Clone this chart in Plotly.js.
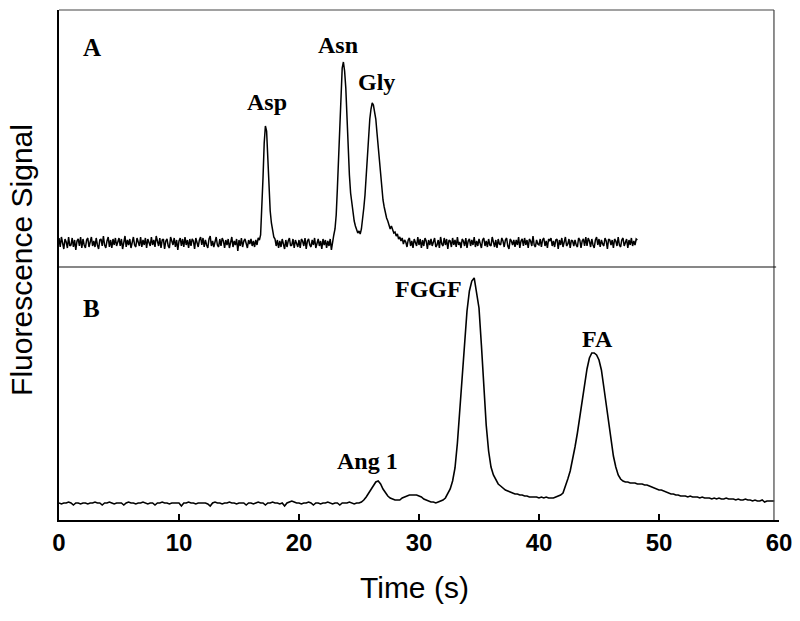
<!DOCTYPE html>
<html>
<head>
<meta charset="utf-8">
<script src="https://cdn.plot.ly/plotly-3.0.1.min.js"></script>
<style>
  body { margin: 0; background: #fff; }
  #chart { width: 800px; height: 621px; }
</style>
</head>
<body>
<div id="chart"></div>
<script>
// time steps (s) of the two traces
var stepA = 0.1;   // panel A: 0 .. 48.2 s
var stepB = 0.2;   // panel B: 0 .. 59.6 s

// panel A signal (arbitrary units above baseline)
var signalA = [
  5,-4,6,-2,-6,4,1,-5,6,-3,
  -2,5,-4,3,-7,2,4,-3,6,-5,
  4,-2,-5,3,5,-4,1,6,-3,2,
  -4,5,-2,-6,3,4,-3,7,-2,-5,
  2,6,-4,3,-5,4,-2,5,-3,1,
  5,-3,4,-6,2,7,-4,3,-2,4,
  -5,3,6,-2,-4,5,2,-3,6,-4,
  3,-2,5,-5,4,-1,-3,6,-2,3,
  -4,7,2,-3,5,-5,3,4,-6,2,
  4,-3,-5,6,2,-2,5,-4,3,-7,
  2,5,-3,4,-4,6,-2,3,-5,4,
  -3,4,2,-6,5,-1,-4,3,6,-2,
  5,-4,3,-2,-5,4,7,-3,2,-4,
  3,6,-2,-4,4,-3,5,2,-5,3,
  -2,4,-5,3,6,-4,2,-2,4,-8,
  3,-3,5,-4,2,4,-2,-5,3,-1,
  4,-3,2,-4,3,-2,5,3,8,32,
  65,100,117,112,82,52,32,20,11,6,
  4,-3,3,-5,2,-4,4,-2,-6,3,
  -4,2,5,-3,-2,4,-5,3,-1,-4,
  3,-5,4,2,-3,5,-6,2,4,-2,
  -4,3,-2,5,-5,1,4,-3,2,-6,
  4,-2,3,-5,2,-3,4,-7,2,8,
  14,28,55,85,120,152,175,181,172,155,
  125,90,68,50,40,30,22,17,13,10,
  12,9,14,22,35,48,68,88,108,124,
  134,140,138,132,124,110,95,80,66,54,
  43,36,30,25,22,19,14,17,12,10,
  11,7,9,4,6,2,5,-1,3,1,
  -4,3,5,-3,2,-5,4,-1,-3,6,
  -2,4,-5,3,-3,5,2,-6,3,-2,
  4,-3,2,5,-4,-2,3,-5,6,-1,
  -3,5,-2,4,-6,3,2,-4,5,-2,
  3,-4,6,-2,1,-5,4,2,-3,5,
  -5,2,4,-3,3,-2,6,-4,2,-3,
  4,-1,-5,3,5,-3,2,-4,4,-2,
  -3,6,2,-4,3,-5,4,-1,-2,5,
  2,-4,3,5,-3,-6,4,2,-2,3,
  -4,3,-2,6,-5,2,4,-3,5,-2,
  3,-5,4,2,-3,7,-2,-4,3,-1,
  -2,4,-4,3,5,-3,2,-5,4,2,
  5,-3,2,-4,3,4,-6,3,-2,5,
  -4,2,6,-3,-1,4,-5,3,2,-3,
  3,-2,-4,5,3,-5,2,4,-3,6,
  -3,5,2,-4,4,-2,-5,3,6,-2,
  4,-4,3,-1,-3,5,2,-6,4,3,
  -2,3,-5,4,2,-3,6,-2,-4,3,
  5,-3,2,4,-5,3,-2,5,-3,2,
  -2,4,3
];

// panel B signal (arbitrary units above baseline)
var signalB = [
  0,-1,0,0,1,0,-2,0,0,-1,
  0,0,-1,0,0,1,0,0,-2,0,
  0,1,0,-1,0,0,0,-2,0,1,
  0,0,-1,0,0,1,0,-1,0,0,
  -2,0,0,1,0,0,-1,0,0,0,
  0,-3,0,0,1,0,0,-1,0,0,
  0,0,-1,-3,0,1,0,0,-1,0,
  0,1,0,0,-1,0,0,0,-2,0,
  0,-1,0,1,0,0,-2,0,0,1,
  0,0,-1,0,-3,0,1,2,1,0,
  0,-1,0,0,1,0,-2,0,0,-1,
  0,0,1,0,-1,0,0,-2,0,0,
  0,1,0,-1,0,0,1,3,6,10,
  14,18,21,22,19,14,10,7,5,4,
  3,3,3,5,6,7,8,8,8,8,
  7,6,4,3,2,1,1,0,1,2,
  3,5,9,14,22,35,60,93,125,160,
  192,212,222,225,212,195,158,115,78,52,
  36,28,23,19,17,15,13,12,11,10,
  9,9,8,8,7,7,6,6,6,6,
  5,6,5,6,5,5,5,6,7,8,
  10,16,24,32,43,56,70,86,103,120,
  134,145,150,150,148,143,133,116,98,82,
  65,47,36,28,24,22,21,21,20,20,
  20,19,19,19,18,18,17,16,15,14,
  13,13,12,11,10,9,9,8,8,7,
  7,7,6,7,6,6,6,5,6,5,
  5,5,4,5,4,5,4,4,5,4,
  4,4,3,4,3,3,4,3,3,2,
  3,2,2,3,1,2,2,2,2
];

var tickVals = [0, 10, 20, 30, 40, 50, 60];

// peak labels: name, time (s), signal level of the label
var labelsA = ["A", "Asp", "Asn", "Gly"];
var labelTimesA = [2.77, 17.31, 23.23, 26.43];
var labelLevelsA = [196, 141, 198, 161];
var labelsB = ["B", "Ang 1", "FGGF", "FA"];
var labelTimesB = [2.68, 25.72, 30.77, 44.89];
var labelLevelsB = [194, 42, 214, 164];

var traceA = {
  y: signalA, x0: 0, dx: stepA,
  xaxis: "x", yaxis: "y2",
  type: "scatter", mode: "lines",
  line: { color: "#000", width: 1.5 },
  hoverinfo: "skip"
};
var traceB = {
  y: signalB, x0: 0, dx: stepB,
  xaxis: "x", yaxis: "y",
  type: "scatter", mode: "lines",
  line: { color: "#000", width: 1.6 },
  hoverinfo: "skip"
};

function makeLabel(text, t, level, yref, isPanel) {
  return {
    text: "<b>" + text + "</b>",
    x: t, y: level, xref: "x", yref: yref,
    showarrow: false, xanchor: "center", yanchor: "middle",
    font: { family: "Liberation Serif, Times New Roman, serif", size: isPanel ? 25 : 24, color: "#000" }
  };
}

var annotations = [];
labelsA.forEach(function (name, i) {
  annotations.push(makeLabel(name, labelTimesA[i], labelLevelsA[i], "y2", i === 0));
});
labelsB.forEach(function (name, i) {
  annotations.push(makeLabel(name, labelTimesB[i], labelLevelsB[i], "y", i === 0));
});
annotations.push({
  text: "Fluorescence Signal", textangle: -90,
  x: -0.0514, y: 0.51, xref: "paper", yref: "paper",
  xanchor: "center", yanchor: "middle", showarrow: false,
  font: { family: "Liberation Sans, Arial, sans-serif", size: 30, color: "#000" }
});
annotations.push({
  text: "Time (s)",
  x: 0.494, y: -0.133, xref: "paper", yref: "paper",
  xanchor: "center", yanchor: "middle", showarrow: false,
  font: { family: "Liberation Sans, Arial, sans-serif", size: 30, color: "#000" }
});

var split = 0.4961;
var rightEdge = 0.993;

var layout = {
  width: 800, height: 621,
  margin: { l: 59, r: 21, t: 10, b: 101 },
  paper_bgcolor: "#fff", plot_bgcolor: "#fff",
  showlegend: false,
  xaxis: {
    range: [0, 60], anchor: "y",
    tickvals: tickVals, ticks: "inside", ticklen: 6, tickwidth: 1.5, tickcolor: "#000",
    tickfont: { family: "Liberation Sans, Arial, sans-serif", size: 24, color: "#000", weight: "bold" },
    showline: true, linecolor: "#000", linewidth: 2,
    showgrid: false, zeroline: false
  },
  yaxis: {
    domain: [0, split], range: [-17, 236], anchor: "x",
    showticklabels: false, ticks: "",
    showline: true, linecolor: "#000", linewidth: 2.5,
    showgrid: false, zeroline: false
  },
  yaxis2: {
    domain: [split, 1], range: [-24, 233], anchor: "x",
    showticklabels: false, ticks: "",
    showline: true, linecolor: "#000", linewidth: 2.5,
    showgrid: false, zeroline: false
  },
  shapes: [
    { type: "line", xref: "paper", yref: "paper", x0: 0, x1: rightEdge, y0: 1, y1: 1,
      line: { color: "#444", width: 1.2 } },
    { type: "line", xref: "paper", yref: "paper", x0: rightEdge, x1: rightEdge, y0: 0, y1: 1,
      line: { color: "#444", width: 1.2 } },
    { type: "line", xref: "paper", yref: "paper", x0: 0, x1: rightEdge + 0.003, y0: split, y1: split,
      line: { color: "#111", width: 1.2 } }
  ],
  annotations: annotations
};

Plotly.newPlot("chart", [traceB, traceA], layout, { staticPlot: true, displayModeBar: false });
</script>
</body>
</html>
